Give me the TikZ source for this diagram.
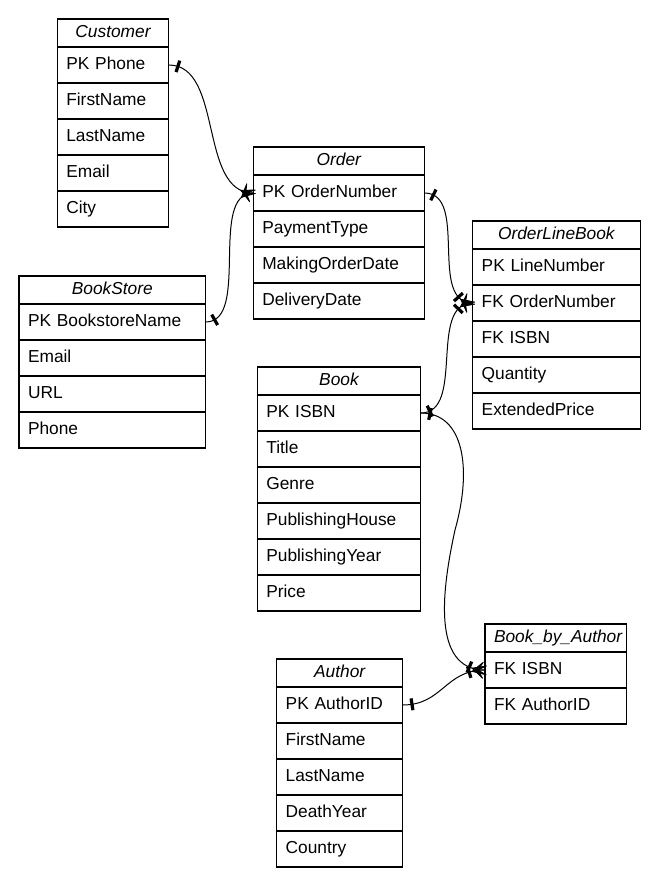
\documentclass[tikz,border=0pt]{standalone}
\usepackage{fontspec}
\setmainfont{Liberation Sans}
\usetikzlibrary{decorations.markings}
\tikzset{
  lw/.style={line width=0.8pt},
  ttl/.style={draw, lw, anchor=north west, outer sep=0pt, inner xsep=6.75pt, inner ysep=0pt,
     minimum height=21pt, text width=#1, align=center, text height=9pt, text depth=3pt,
     font=\fontsize{13}{15}\selectfont\itshape},
  fld/.style={draw, lw, anchor=north west, outer sep=0pt, inner xsep=6.75pt, inner ysep=0pt,
     minimum height=27pt, text width=#1, align=left, text height=9pt, text depth=3pt,
     font=\fontsize{13}{15}\selectfont},
  rel/.style={draw, line width=0.75pt},
  onestart/.style={postaction={decorate, decoration={markings,
     mark=at position 7pt with {\draw[line width=2.4pt] (0,-6) -- (0,6);}}}},
  crowend/.style={postaction={decorate, decoration={markings,
     mark=at position -9.75pt with {\filldraw[line width=0.6pt, line join=round] (0,0) -- (13,6.5) -- (6,0) -- (13,-6.5) -- cycle;}}}},
  barend/.style={postaction={decorate, decoration={markings,
     mark=at position -12pt with {\draw[line width=2.4pt] (0,-6) -- (0,6);}}}},
}
\begin{document}
\begin{tikzpicture}[x=0.75pt, y=-0.75pt]
\useasboundingbox (0,0) rectangle (658,886);
\fill[white] (0,0) rectangle (658,886);

% Customer
\node[ttl=70.05pt] (cust-t) at (57.3,19) {Customer};
\node[fld=70.05pt] (cust-1) at (cust-t.south west) {PK Phone};
\node[fld=70.05pt] (cust-2) at (cust-1.south west) {FirstName};
\node[fld=70.05pt] (cust-3) at (cust-2.south west) {LastName};
\node[fld=70.05pt] (cust-4) at (cust-3.south west) {Email};
\node[fld=70.05pt] (cust-5) at (cust-4.south west) {City};

% BookStore
\node[ttl=126.5pt] (bs-t) at (19,276) {BookStore};
\node[fld=126.5pt] (bs-1) at (bs-t.south west) {PK BookstoreName};
\node[fld=126.5pt] (bs-2) at (bs-1.south west) {Email};
\node[fld=126.5pt] (bs-3) at (bs-2.south west) {URL};
\node[fld=126.5pt] (bs-4) at (bs-3.south west) {Phone};

% Order
\node[ttl=114.75pt] (ord-t) at (253.3,147) {Order};
\node[fld=114.75pt] (ord-1) at (ord-t.south west) {PK OrderNumber};
\node[fld=114.75pt] (ord-2) at (ord-1.south west) {PaymentType};
\node[fld=114.75pt] (ord-3) at (ord-2.south west) {MakingOrderDate};
\node[fld=114.75pt] (ord-4) at (ord-3.south west) {DeliveryDate};

% OrderLineBook
\node[ttl=112pt] (olb-t) at (472.7,221) {OrderLineBook};
\node[fld=112pt] (olb-1) at (olb-t.south west) {PK LineNumber};
\node[fld=112pt] (olb-2) at (olb-1.south west) {FK OrderNumber};
\node[fld=112pt] (olb-3) at (olb-2.south west) {FK ISBN};
\node[fld=112pt] (olb-4) at (olb-3.south west) {Quantity};
\node[fld=112pt] (olb-5) at (olb-4.south west) {ExtendedPrice};

% Book
\node[ttl=109.05pt] (book-t) at (257.3,367) {Book};
\node[fld=109.05pt] (book-1) at (book-t.south west) {PK ISBN};
\node[fld=109.05pt] (book-2) at (book-1.south west) {Title};
\node[fld=109.05pt] (book-3) at (book-2.south west) {Genre};
\node[fld=109.05pt] (book-4) at (book-3.south west) {PublishingHouse};
\node[fld=109.05pt] (book-5) at (book-4.south west) {PublishingYear};
\node[fld=109.05pt] (book-6) at (book-5.south west) {Price};

% Author
\node[ttl=81pt] (auth-t) at (276.7,659) {Author};
\node[fld=81pt] (auth-1) at (auth-t.south west) {PK AuthorID};
\node[fld=81pt] (auth-2) at (auth-1.south west) {FirstName};
\node[fld=81pt] (auth-3) at (auth-2.south west) {LastName};
\node[fld=81pt] (auth-4) at (auth-3.south west) {DeathYear};
\node[fld=81pt] (auth-5) at (auth-4.south west) {Country};

% Book_by_Author
\node[ttl=92.8pt] (bba-t) at (485,624) {Book\_by\_Author};
\node[fld=92.8pt] (bba-1) at (bba-t.south west) {FK ISBN};
\node[fld=92.8pt] (bba-2) at (bba-1.south west) {FK AuthorID};

% Relationships
\draw[rel, onestart, crowend] (cust-1.east) .. controls +(55,0) and +(-55,0) .. (ord-1.west);
\draw[rel, onestart, crowend] (bs-1.east) .. controls +(45,0) and +(-45,0) .. (ord-1.west);
\draw[rel, onestart, crowend, barend] (ord-1.east) .. controls +(45,0) and +(-45,0) .. (olb-2.west);
\draw[rel, onestart, crowend, barend] (book-1.east) .. controls +(45,0) and +(-45,0) .. (olb-2.west);
\coordinate (bkmid) at (455,530);
\draw[rel, onestart, crowend, barend] (book-1.east) .. controls +(44,0) and +(17,-60) .. (bkmid)
   .. controls +(-12,55) and +(-55,0) .. (bba-1.west);
\draw[rel, onestart, crowend, barend] (auth-1.east) .. controls +(40,0) and +(-40,0) .. (bba-1.west);
\end{tikzpicture}
\end{document}
